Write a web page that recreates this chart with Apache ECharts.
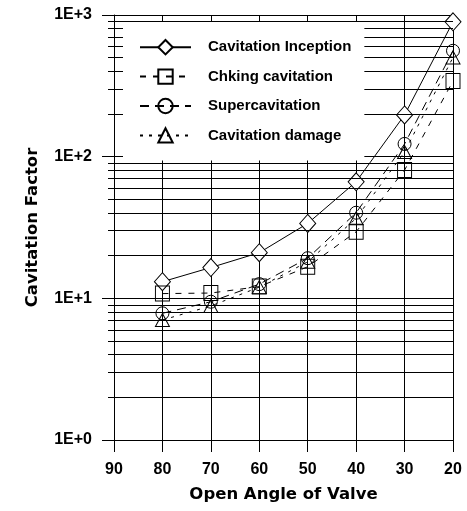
<!DOCTYPE html>
<html>
<head>
<meta charset="utf-8">
<script src="https://cdn.jsdelivr.net/npm/echarts@6/dist/echarts.min.js"></script>
<style>
html,body{margin:0;padding:0;background:#fff;}
#chart{width:467px;height:511px;}
</style>
</head>
<body>
<div id="chart"></div>
<script>
// ---- data ----
const openAngles = [80, 70, 60, 50, 40, 30, 20];
const cavitationInception = [13.1, 16.5, 21.0, 33.8, 66.5, 197, 896];
const chokingCavitation = [10.8, 10.9, 12.1, 16.7, 29.5, 80.4, 342];
const supercavitation = [7.84, 9.46, 12.6, 19.2, 40.2, 123, 559];
const cavitationDamage = [7.03, 8.83, 12.0, 18.1, 36.7, 108, 502];
const seriesNames = ['Cavitation Inception', 'Chking cavitation', 'Supercavitation', 'Cavitation damage'];
const xTickValues = [90, 80, 70, 60, 50, 40, 30, 20];
const yTickLabels = ['1E+0', '1E+1', '1E+2', '1E+3'];
const minorGridValues = [2,3,4,5,6,7,8,9,20,30,40,50,60,70,80,90,200,300,400,500,600,700,800,900];

const pairs = arr => openAngles.map((a, i) => [a, arr[i]]);
const black = '#000';
const labelFont = 'Liberation Sans, Arial, sans-serif';
const titleFont = 'DejaVu Sans, sans-serif';

const chart = echarts.init(document.getElementById('chart'), null, {renderer: 'canvas'});

function mkSeries(name, values, symbol, size, dash, fill) {
  return {
    name: name,
    type: 'line',
    xAxisIndex: 0,
    yAxisIndex: 0,
    data: pairs(values),
    symbol: symbol,
    symbolSize: size,
    showSymbol: true,
    lineStyle: {color: black, width: 1, type: dash},
    itemStyle: {color: fill, borderColor: black, borderWidth: 1},
    emphasis: {disabled: true},
    z: 3
  };
}

const series = [
  mkSeries(seriesNames[0], cavitationInception, 'diamond', [16, 18], 'solid', '#fff'),
  mkSeries(seriesNames[1], chokingCavitation, 'rect', [14, 15], [6, 7], 'rgba(255,255,255,0)'),
  mkSeries(seriesNames[2], supercavitation, 'circle', 13, [9, 6], 'rgba(255,255,255,0)'),
  mkSeries(seriesNames[3], cavitationDamage, 'triangle', [14, 13], [3, 6], 'rgba(255,255,255,0)')
];
series[0].markLine = {
  silent: true,
  symbol: ['none', 'none'],
  label: {show: false},
  animation: false,
  lineStyle: {color: black, width: 1, type: 'solid'},
  emphasis: {disabled: true},
  data: minorGridValues.map(v => ({yAxis: v}))
};

const option = {
  backgroundColor: '#fff',
  animation: false,
  grid: {left: 114, right: 14, top: 15, bottom: 71, containLabel: false},
  legend: {
    orient: 'vertical',
    left: 123,
    top: 22,
    padding: [17, 13, 17, 16],
    backgroundColor: '#fff',
    itemWidth: 51,
    itemHeight: 18,
    itemGap: 13,
    selectedMode: false,
    z: 10,
    textStyle: {fontFamily: labelFont, fontWeight: 'bold', fontSize: 15, color: black, padding: [0, 0, 0, 12]},
    data: seriesNames
  },
  xAxis: [{
    type: 'value',
    min: 20, max: 90, interval: 10,
    inverse: true,
    name: 'Open Angle of Valve',
    nameLocation: 'middle',
    nameGap: 46,
    nameTextStyle: {fontFamily: titleFont, fontWeight: 'bold', fontSize: 16.5, color: black},
    axisLine: {show: true, onZero: false, lineStyle: {color: black, width: 1}},
    axisTick: {show: true, inside: false, length: 12, lineStyle: {color: black}},
    axisLabel: {
      margin: 22, color: black, fontFamily: labelFont, fontWeight: 'bold', fontSize: 16,
      formatter: v => (xTickValues.indexOf(v) >= 0 ? String(v) : '')
    },
    splitLine: {show: true, lineStyle: {color: black, width: 1}}
  }, {
    type: 'value',
    position: 'top',
    min: 20, max: 90, interval: 10,
    inverse: true,
    axisLine: {show: true, onZero: false, lineStyle: {color: black, width: 1}},
    axisTick: {show: true, inside: true, length: 6, lineStyle: {color: black}},
    axisLabel: {show: false},
    splitLine: {show: false}
  }],
  yAxis: [{
    type: 'log',
    logBase: 10,
    min: 1, max: 1000,
    name: 'Cavitation Factor',
    nameLocation: 'middle',
    nameGap: 73,
    nameRotate: 90,
    nameTextStyle: {fontFamily: titleFont, fontWeight: 'bold', fontSize: 16.5, color: black},
    axisLine: {show: true, onZero: false, lineStyle: {color: black, width: 1}},
    axisTick: {show: true, inside: false, length: 12, lineStyle: {color: black}},
    axisLabel: {
      margin: 22, color: black, fontFamily: labelFont, fontWeight: 'bold', fontSize: 16,
      formatter: v => {
        const k = Math.round(Math.log10(v));
        return yTickLabels[k] !== undefined ? yTickLabels[k] : '';
      }
    },
    splitLine: {show: true, lineStyle: {color: black, width: 1}}
  }, {
    // minor tick marks crossing the left axis, placed in log10 space
    type: 'value',
    position: 'left',
    min: 0, max: 3,
    offset: -6,
    axisLine: {show: false},
    axisTick: {show: true, inside: false, length: 12, lineStyle: {color: black},
      customValues: minorGridValues.map(v => Math.log10(v))},
    axisLabel: {show: false},
    splitLine: {show: false}
  }],
  series: series
};
chart.setOption(option);
</script>
</body>
</html>
